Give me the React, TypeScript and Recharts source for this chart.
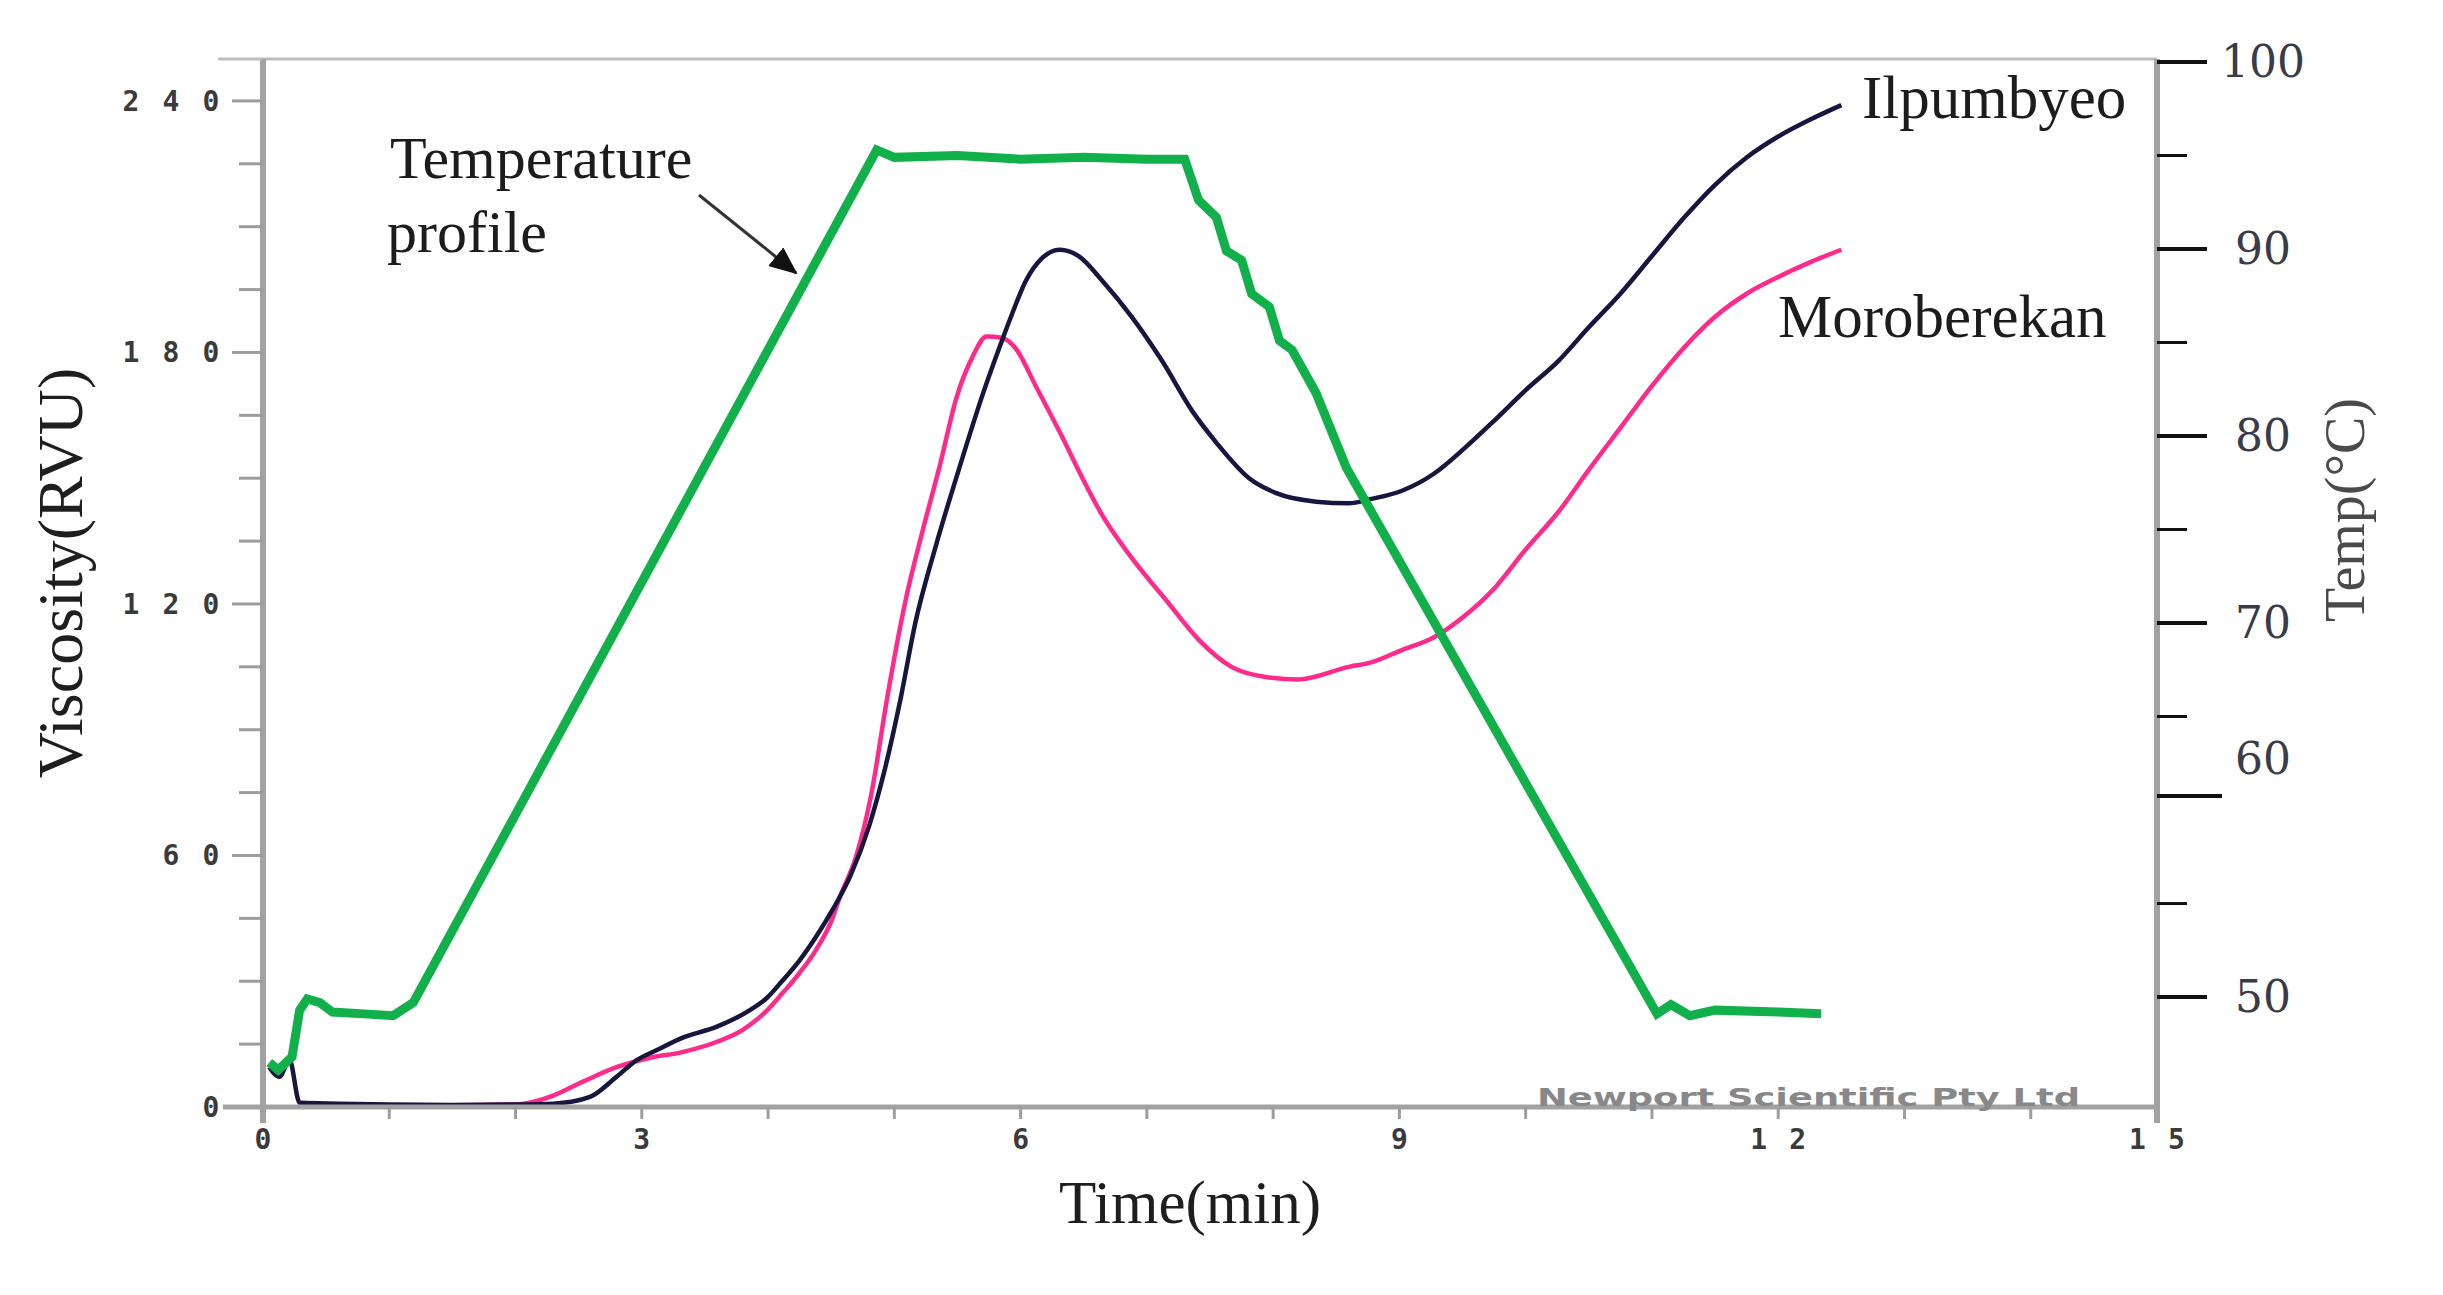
import React from "react";
import { LineChart, Line, XAxis, YAxis, ReferenceLine } from "recharts";

// RVA pasting curves: viscosity of two rice varieties plus the temperature programme
const tempTime = [0.05, 0.12, 0.23, 0.29, 0.35, 0.45, 0.55, 0.8, 1.03, 1.19, 4.86, 5.0, 5.5, 6.0, 6.5, 7.0, 7.3, 7.41, 7.55, 7.63, 7.75, 7.83, 7.97, 8.05, 8.15, 8.34, 8.58, 11.04, 11.15, 11.3, 11.5, 12.0, 12.34];
const tempValue = [46.5, 46.1, 46.8, 49.3, 49.9, 49.7, 49.2, 49.1, 49.0, 49.7, 95.3, 94.9, 95.0, 94.8, 94.9, 94.8, 94.8, 92.6, 91.7, 89.9, 89.4, 87.6, 86.9, 85.1, 84.6, 82.3, 78.3, 49.1, 49.6, 49.0, 49.3, 49.2, 49.1];

const ilpTime = [0.05, 0.13, 0.21, 0.29, 0.6, 1.0, 1.5, 2.0, 2.3, 2.59, 2.8, 2.96, 3.12, 3.32, 3.59, 3.85, 3.99, 4.11, 4.25, 4.38, 4.51, 4.65, 4.8, 4.92, 5.04, 5.17, 5.33, 5.51, 5.7, 5.83, 5.93, 6.04, 6.17, 6.31, 6.46, 6.65, 6.88, 7.12, 7.36, 7.55, 7.81, 8.02, 8.34, 8.6, 8.77, 9.02, 9.27, 9.51, 9.76, 10.0, 10.26, 10.5, 10.75, 11.0, 11.25, 11.5, 11.75, 12.0, 12.25, 12.5];
const ilpValue = [9.5, 7.2, 11.2, 1.0, 0.8, 0.6, 0.5, 0.6, 0.8, 2.4, 7.2, 11.2, 13.6, 16.5, 19.1, 23, 26, 30, 35, 40.6, 47, 55, 67, 80, 96, 116, 134, 152, 170, 181, 189, 197, 202.5, 204.5, 203, 197, 188.5, 178, 166, 158.5, 150, 146.5, 144.4, 144, 145, 147, 151, 157, 164, 171, 178, 186, 194, 203, 212, 220, 226.5, 231.5, 235.5, 239];

const moroTime = [0.29, 0.6, 1.0, 1.5, 2.0, 2.11, 2.27, 2.53, 2.8, 3.06, 3.32, 3.59, 3.8, 3.99, 4.11, 4.25, 4.38, 4.51, 4.56, 4.7, 4.82, 4.94, 5.09, 5.22, 5.36, 5.49, 5.62, 5.73, 5.85, 5.96, 6.12, 6.31, 6.49, 6.65, 6.88, 7.15, 7.41, 7.67, 7.94, 8.2, 8.6, 8.77, 9.02, 9.27, 9.51, 9.76, 10.0, 10.26, 10.5, 10.75, 11.0, 11.25, 11.5, 11.75, 12.0, 12.25, 12.5];
const moroValue = [1.0, 0.5, 0.4, 0.4, 0.6, 1.0, 2.4, 6, 9.5, 11.7, 13.1, 15.5, 18.4, 23, 27, 32, 37.5, 45, 49.4, 60, 75, 97, 121, 137, 153, 169, 179, 183.8, 183.5, 181, 172, 161, 150, 141, 131, 121, 111.5, 105, 102.6, 102, 105, 106, 109, 112, 117, 124, 133, 142, 152, 162, 172, 181, 188.5, 194, 198, 201.5, 204.5];

const timeTicks = [0, 1, 2, 3, 4, 5, 6, 7, 8, 9, 10, 11, 12, 13, 14, 15];
const viscTicks = [0, 15, 30, 45, 60, 75, 90, 105, 120, 135, 150, 165, 180, 195, 210, 225, 240];
const tempTicks = [50, 55, 60, 65, 70, 75, 80, 85, 90, 95, 100];

const tempData = tempTime.map((t, i) => ({ t, v: tempValue[i] }));
const ilpData = ilpTime.map((t, i) => ({ t, v: ilpValue[i] }));
const moroData = moroTime.map((t, i) => ({ t, v: moroValue[i] }));

const W = 2443;
const H = 1295;
const PLOT_LEFT = 263;
const PLOT_RIGHT = 2157;
const PLOT_TOP = 59;
const PLOT_BOTTOM = 1107;

const AXIS_GREY = "#a2a2a2";
const SERIF = "'Liberation Serif', 'Times New Roman', serif";
const MONO = "'DejaVu Sans Mono', monospace";

function LeftTick(props: any) {
  const { y, payload } = props;
  const v = payload.value;
  const major = v % 60 === 0;
  const digits = String(v).split("");
  return (
    <g>
      <line x1={PLOT_LEFT - (major ? 31 : 24)} x2={PLOT_LEFT} y1={y} y2={y} stroke="#9d9d9d" strokeWidth={3} />
      {major &&
        digits.map((d, i) => (
          <text
            key={i}
            x={PLOT_LEFT - 52 - (digits.length - 1 - i) * 40}
            y={y + 10}
            textAnchor="middle"
            fontSize={28}
            fontWeight="bold"
            fontFamily={MONO}
            fill="#3a3a3a"
          >
            {d}
          </text>
        ))}
    </g>
  );
}

function BottomTick(props: any) {
  const { x, payload } = props;
  const v = payload.value;
  const digits = String(v).split("");
  return (
    <g>
      <line x1={x} x2={x} y1={PLOT_BOTTOM} y2={PLOT_BOTTOM + 12} stroke="#9d9d9d" strokeWidth={3} />
      {v % 3 === 0 &&
        digits.map((d, i) => (
          <text
            key={i}
            x={x + (i - (digits.length - 1) / 2) * 39}
            y={PLOT_BOTTOM + 42}
            textAnchor="middle"
            fontSize={28}
            fontWeight="bold"
            fontFamily={MONO}
            fill="#3a3a3a"
          >
            {d}
          </text>
        ))}
    </g>
  );
}

function RightTick(props: any) {
  const { y, payload } = props;
  const v = payload.value;
  const major = v % 10 === 0;
  const len = v === 60 ? 65 : major ? 50 : 30;
  const ty = v === 60 ? y - 14 : y;
  return (
    <g>
      <line x1={PLOT_RIGHT} x2={PLOT_RIGHT + len} y1={ty} y2={ty} stroke="#111" strokeWidth={major ? 4 : 3} />
      {major && (
        <text
          x={PLOT_RIGHT + 106}
          y={y + (v === 60 ? -51 : 0) + 15}
          textAnchor="middle"
          fontSize={44}
          fontFamily="'DejaVu Serif', serif"
          fill="#3a3a48"
        >
          {v}
        </text>
      )}
    </g>
  );
}

export default function App() {
  return (
    <div style={{ position: "absolute", left: 0, top: 0, width: W, height: H, background: "#fff" }}>
      <LineChart
        width={W}
        height={H}
        margin={{ top: PLOT_TOP, right: W - PLOT_RIGHT - 100, bottom: H - PLOT_BOTTOM - 60, left: PLOT_LEFT - 63 }}
      >
        <XAxis
          dataKey="t"
          type="number"
          domain={[0, 15]}
          ticks={timeTicks}
          interval={0}
          height={60}
          tickLine={false}
          axisLine={{ stroke: AXIS_GREY, strokeWidth: 5 }}
          tick={(p: any) => <BottomTick {...p} />}
          allowDataOverflow
        />
        <YAxis
          yAxisId="visc"
          orientation="left"
          width={63}
          type="number"
          domain={[0, 250]}
          ticks={viscTicks}
          interval={0}
          tickLine={false}
          axisLine={{ stroke: AXIS_GREY, strokeWidth: 6 }}
          tick={(p: any) => <LeftTick {...p} />}
          allowDataOverflow
        />
        <YAxis
          yAxisId="temp"
          orientation="right"
          width={100}
          type="number"
          domain={[44.12, 100.16]}
          ticks={tempTicks}
          interval={0}
          tickLine={false}
          axisLine={{ stroke: AXIS_GREY, strokeWidth: 6 }}
          tick={(p: any) => <RightTick {...p} />}
          allowDataOverflow
        />
        <ReferenceLine yAxisId="visc" y={250} stroke="#bdbdbd" strokeWidth={3} ifOverflow="visible" />
        <Line
          yAxisId="visc"
          data={moroData}
          dataKey="v"
          type="monotone"
          stroke="#ff2a8c"
          strokeWidth={4.5}
          dot={false}
          isAnimationActive={false}
        />
        <Line
          yAxisId="visc"
          data={ilpData}
          dataKey="v"
          type="monotone"
          stroke="#16163f"
          strokeWidth={4.5}
          dot={false}
          isAnimationActive={false}
        />
        <Line
          yAxisId="temp"
          data={tempData}
          dataKey="v"
          type="linear"
          stroke="#12b04b"
          strokeWidth={9}
          dot={false}
          isAnimationActive={false}
        />
      </LineChart>

      {/* frame extensions, titles and annotations */}
      <svg
        width={W}
        height={H}
        style={{ position: "absolute", left: 0, top: 0, pointerEvents: "none" }}
      >
        <defs>
          <marker id="arrowhead" markerUnits="userSpaceOnUse" markerWidth={28} markerHeight={24} refX={26} refY={12} orient="auto">
            <path d="M0,0 L28,12 L0,24 Z" fill="#111" />
          </marker>
        </defs>
        <line x1={218} x2={PLOT_LEFT} y1={PLOT_TOP} y2={PLOT_TOP} stroke="#bdbdbd" strokeWidth={3} />
        <line x1={223} x2={PLOT_LEFT} y1={PLOT_BOTTOM} y2={PLOT_BOTTOM} stroke={AXIS_GREY} strokeWidth={5} />
        <line x1={PLOT_LEFT} x2={PLOT_LEFT} y1={PLOT_BOTTOM} y2={PLOT_BOTTOM + 16} stroke={AXIS_GREY} strokeWidth={6} />
        <line x1={PLOT_RIGHT} x2={PLOT_RIGHT} y1={PLOT_BOTTOM} y2={PLOT_BOTTOM + 16} stroke={AXIS_GREY} strokeWidth={6} />

        <text x={1537} y={PLOT_BOTTOM - 1} textLength={543} lengthAdjust="spacingAndGlyphs" fontSize={24} fontWeight="bold" fontFamily="'DejaVu Sans', sans-serif" fill="#888">
          Newport Scientific Pty Ltd
        </text>

        <text x={1190} y={1223} textAnchor="middle" fontSize={61} fontFamily={SERIF} fill="#1e1e1e">
          Time(min)
        </text>
        <text transform="translate(82,573) rotate(-90)" textAnchor="middle" fontSize={64} fontFamily={SERIF} fill="#1e1e1e">
          Viscosity(RVU)
        </text>
        <text transform="translate(2364,510) rotate(-90)" textAnchor="middle" fontSize={56} fontFamily={SERIF} fill="#4a4a4a">
          Temp(°C)
        </text>

        <text x={1862} y={118} fontSize={61} fontFamily={SERIF} fill="#1c1c1c">
          Ilpumbyeo
        </text>
        <text x={1778} y={337} fontSize={61} fontFamily={SERIF} fill="#1c1c1c">
          Moroberekan
        </text>

        <text x={390} y={178} fontSize={60} fontFamily={SERIF} fill="#1c1c1c">
          Temperature
        </text>
        <text x={387} y={252} fontSize={60} fontFamily={SERIF} fill="#1c1c1c">
          profile
        </text>
        <line x1={699} y1={195} x2={796} y2={273} stroke="#333" strokeWidth={3} markerEnd="url(#arrowhead)" />
      </svg>
    </div>
  );
}
